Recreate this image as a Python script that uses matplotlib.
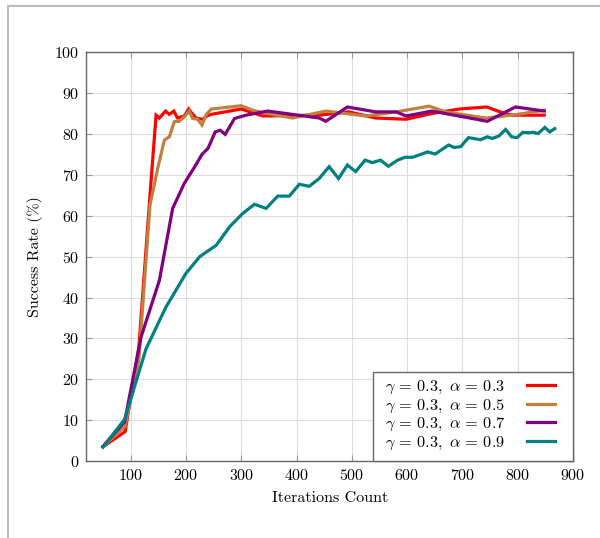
import matplotlib
matplotlib.use("Agg")
import matplotlib.pyplot as plt
from matplotlib.lines import Line2D
from matplotlib.patches import Rectangle

plt.rcParams["font.family"] = "serif"
plt.rcParams["font.serif"] = ["cmr10", "DejaVu Serif"]
plt.rcParams["mathtext.fontset"] = "cm"
plt.rcParams["axes.formatter.use_mathtext"] = True

# gamma = 0.3, alpha = 0.3
x_a3 = [50, 90, 115, 135, 146, 152, 163, 170, 178, 185, 197, 205, 211, 219, 231, 238, 246,
        300, 339, 441, 495, 543, 598, 645, 694, 744, 772, 790, 848]
y_a3 = [3.5, 7.2, 28, 65, 84.6, 83.9, 85.6, 84.8, 85.6, 83.9, 84.4, 86.1, 85.0, 83.8, 83.6, 84.4, 84.8,
        86.1, 84.4, 84.6, 85.4, 83.9, 83.6, 85.0, 86.1, 86.6, 85.2, 84.6, 84.6]

# gamma = 0.3, alpha = 0.5
x_a5 = [50, 90, 115, 135, 149, 161, 170, 179, 188, 197, 206, 212, 221, 229, 237, 246,
        300, 321, 339, 393, 453, 525, 580, 640, 670, 742, 790, 848]
y_a5 = [3.5, 8.5, 25, 62.6, 71.6, 78.5, 79.3, 83.0, 83.1, 84.2, 85.6, 83.8, 83.6, 82.2, 84.8, 86.1,
        86.9, 85.8, 85.2, 83.9, 85.6, 84.4, 85.4, 86.8, 85.4, 83.9, 84.6, 85.8]

# gamma = 0.3, alpha = 0.7
x_a7 = [50, 89, 119, 152, 176, 197, 216, 229, 240, 253, 262, 271, 288, 309, 348, 441,
        453, 492, 543, 580, 598, 645, 745, 796, 848]
y_a7 = [3.6, 9.6, 30.4, 44.2, 61.8, 67.9, 72.0, 75.0, 76.5, 80.5, 80.9, 79.9, 83.8, 84.6, 85.6, 83.9,
        83.1, 86.6, 85.4, 85.4, 84.4, 85.6, 83.1, 86.6, 85.6]

# gamma = 0.3, alpha = 0.9
x_a9 = [50, 89, 128, 164, 200, 225, 255, 279, 303, 324, 345, 366, 387, 405, 423, 441, 459, 476,
        492, 507, 524, 537, 552, 566, 583, 596, 610, 637, 651, 675, 685, 697, 711, 733, 745,
        754, 766, 778, 789, 799, 809, 820, 828, 837, 849, 858, 867]
y_a9 = [3.4, 10.2, 27.5, 37.7, 45.9, 50.0, 52.8, 57.3, 60.6, 62.8, 61.8, 64.8, 64.8, 67.7, 67.2,
        69.1, 72.0, 69.1, 72.4, 70.8, 73.6, 73.0, 73.6, 72.1, 73.6, 74.3, 74.3, 75.6, 75.1, 77.3,
        76.7, 76.9, 79.1, 78.6, 79.3, 78.9, 79.5, 81.1, 79.3, 79.1, 80.4, 80.3, 80.4, 80.1, 81.6,
        80.5, 81.3]

series = [
    (x_a3, y_a3, r"$\gamma\,=\,0.3,\;\alpha\,=\,0.3$", "#ff0000"),
    (x_a5, y_a5, r"$\gamma\,=\,0.3,\;\alpha\,=\,0.5$", "#bf8040"),
    (x_a7, y_a7, r"$\gamma\,=\,0.3,\;\alpha\,=\,0.7$", "#800080"),
    (x_a9, y_a9, r"$\gamma\,=\,0.3,\;\alpha\,=\,0.9$", "#008080"),
]

fig = plt.figure(figsize=(6.0, 5.38), dpi=100)
ax = fig.add_axes([0.144, 0.143, 0.811, 0.760])

for xs, ys, lab, col in series:
    ax.plot(xs, ys, color=col, linewidth=2.3, label=lab, solid_joinstyle="miter")

ax.set_xlim(20, 900)
ax.set_ylim(0, 100)
ax.set_xticks(range(100, 901, 100))
ax.set_yticks(range(0, 101, 10))
ax.grid(True, color="#dcdcdc", linewidth=0.8)
ax.set_axisbelow(True)
ax.tick_params(direction="in", top=True, right=True, length=4, color="#999999",
               labelsize=11.5, pad=5)
for sp in ax.spines.values():
    sp.set_color("#666666")
    sp.set_linewidth(1.0)

ax.set_xlabel("Iterations Count", fontsize=11.5, labelpad=6)
ax.set_ylabel("Success Rate (%)", fontsize=11.5, labelpad=8)

# legend box drawn separately so the padding can match the original
ax.add_patch(Rectangle((0.589, 0.0), 0.411, 0.218, transform=ax.transAxes,
                       facecolor="white", edgecolor="#666666", linewidth=1.0,
                       zorder=4.9, clip_on=False))
leg = ax.legend(loc="lower right", bbox_to_anchor=(0.962, 0.022), fontsize=11.8,
                markerfirst=False, borderaxespad=0, borderpad=0, frameon=False,
                handlelength=1.7, handletextpad=1.3, labelspacing=0.08)

# outer frame of the original figure
fig.add_artist(Line2D([8 / 600, 1], [1 - 6 / 538, 1 - 6 / 538], transform=fig.transFigure,
                      color="#bbbbbb", linewidth=1.5))
fig.add_artist(Line2D([8 / 600, 8 / 600], [0, 1 - 6 / 538], transform=fig.transFigure,
                      color="#bbbbbb", linewidth=1.5))

fig.savefig("out.png", dpi=100)
